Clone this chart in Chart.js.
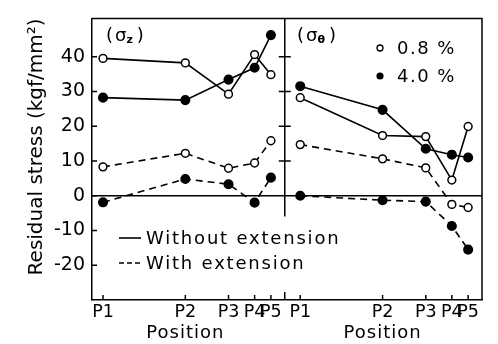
<!DOCTYPE html>
<html>
<head>
<meta charset="utf-8">
<script src="https://cdn.jsdelivr.net/npm/chart.js@4.4.0/dist/chart.umd.min.js"></script>
<style>
  html, body { margin: 0; padding: 0; background: #fff; }
  #wrap { width: 498px; height: 344px; }
</style>
</head>
<body>
<div id="wrap"><canvas id="myChart" width="498" height="344"></canvas></div>
<script>
// P1..P5 along one panel (units)
const positions = [0, 1.01, 1.54, 1.86, 2.06];
const positionLabels = ['P1', 'P2', 'P3', 'P4', 'P5'];
// right panel sits further along the same x axis
const panelShift = 2.42;
const dividerAt = 2.23;

// (sigma z) left panel
const szOpenWithout = [39.5, 38.2, 29.2, 40.6, 34.8];
const szFilledWithout = [28.2, 27.5, 33.4, 36.8, 46.2];
const szOpenWith = [8.3, 12.2, 7.9, 9.4, 15.8];
const szFilledWith = [-1.9, 4.8, 3.3, -2.0, 5.2];

// (sigma theta) right panel
const stOpenWithout = [28.2, 17.3, 17.0, 4.5, 19.9];
const stFilledWithout = [31.5, 24.7, 13.5, 11.8, 11.0];
const stOpenWith = [14.7, 10.6, 8.0, -2.5, -3.4];
const stFilledWith = [0, -1.3, -1.7, -8.7, -15.5];

const yTicks = [-20, -10, 0, 10, 20, 30, 40];

const FONT = '"DejaVu Sans", "Liberation Sans", sans-serif';
const rightPositions = positions.map(p => p + panelShift);
const xTickValues = positions.concat(rightPositions);
const xTickLabels = positionLabels.concat(positionLabels);

//one line of points, open or filled, solid or dashed
const makeSeries = (xs, ys, filled, dashed) => ({
  data: xs.map((x, i) => ({ x: x, y: ys[i] })),
  borderColor: '#000',
  borderWidth: 1.6,
  borderDash: dashed ? [7, 5] : [],
  pointRadius: filled ? 4.3 : 3.9,
  pointBackgroundColor: filled ? '#000' : '#fff',
  pointBorderColor: '#000',
  pointBorderWidth: 1.5,
  tension: 0,
});

// sigma with a small subscript, inside brackets
const drawSigma = (ctx, x, base, sub) => {
  ctx.font = '18px ' + FONT;
  ctx.fillText('(', x, base);
  x += ctx.measureText('(').width + 2;
  ctx.fillText('σ', x, base);
  x += ctx.measureText('σ').width;
  ctx.font = 'bold 11px ' + FONT;
  ctx.fillText(sub, x, base + 2);
  x += ctx.measureText(sub).width + 4;
  ctx.font = '18px ' + FONT;
  ctx.fillText(')', x, base);
};

const frameAndNotes = {
  id: 'frameAndNotes',
  afterDraw(chart) {
    const ctx = chart.ctx;
    const { left, right, top, bottom } = chart.chartArea;
    const xs = chart.scales.x;
    const ys = chart.scales.y;
    ctx.save();
    ctx.strokeStyle = '#000';
    ctx.fillStyle = '#000';
    ctx.lineWidth = 1.5;
    ctx.setLineDash([]);

    ctx.beginPath();
    //top and right edges of the frame
    ctx.moveTo(left, top);
    ctx.lineTo(right, top);
    ctx.lineTo(right, bottom);
    //divider between the panels
    const dx = xs.getPixelForValue(dividerAt);
    ctx.moveTo(dx, top);
    ctx.lineTo(dx, ys.getPixelForValue(-6));
    ctx.moveTo(dx, bottom);
    ctx.lineTo(dx, bottom - 8);
    [10, 20, 30, 40].forEach(v => {
      const py = ys.getPixelForValue(v);
      ctx.moveTo(dx - 6, py);
      ctx.lineTo(dx + 6, py);
    });
    //inward ticks
    yTicks.forEach(v => {
      const py = ys.getPixelForValue(v);
      ctx.moveTo(left, py);
      ctx.lineTo(left + 5, py);
    });
    xTickValues.forEach(v => {
      const px = xs.getPixelForValue(v);
      ctx.moveTo(px, bottom);
      ctx.lineTo(px, bottom - 5);
    });
    ctx.stroke();

    //panel names
    ctx.textBaseline = 'alphabetic';
    ctx.textAlign = 'left';
    drawSigma(ctx, 106, 41, 'z');
    drawSigma(ctx, 297, 41, 'θ');

    //marker legend
    ctx.letterSpacing = '1.5px';
    ctx.font = '18px ' + FONT;
    ctx.textBaseline = 'middle';
    ctx.beginPath();
    ctx.arc(380, 48, 3, 0, Math.PI * 2);
    ctx.lineWidth = 1.3;
    ctx.stroke();
    ctx.fillText('0.8 %', 397, 49);
    ctx.beginPath();
    ctx.arc(380, 76, 3.6, 0, Math.PI * 2);
    ctx.fill();
    ctx.fillText('4.0 %', 397, 77);

    //line style legend
    ctx.lineWidth = 1.6;
    ctx.beginPath();
    ctx.moveTo(119, 238);
    ctx.lineTo(141, 238);
    ctx.stroke();
    ctx.setLineDash([5, 3]);
    ctx.beginPath();
    ctx.moveTo(119, 263);
    ctx.lineTo(143, 263);
    ctx.stroke();
    ctx.setLineDash([]);
    ctx.letterSpacing = '1.8px';
    ctx.fillText('Without extension', 146, 239);
    ctx.fillText('With extension', 146, 264);

    //x axis titles, one under each panel
    ctx.letterSpacing = '1px';
    ctx.textAlign = 'center';
    ctx.font = '18px ' + FONT;
    ctx.fillText('Position', xs.getPixelForValue(positions[1]), 333);
    ctx.fillText('Position', xs.getPixelForValue(rightPositions[1]), 333);
    ctx.restore();
  }
};

const ctx = document.getElementById('myChart').getContext('2d');
new Chart(ctx, {
  type: 'line',
  data: {
    datasets: [
      makeSeries(positions, szOpenWithout, false, false),
      makeSeries(positions, szFilledWithout, true, false),
      makeSeries(positions, szOpenWith, false, true),
      makeSeries(positions, szFilledWith, true, true),
      makeSeries(rightPositions, stOpenWithout, false, false),
      makeSeries(rightPositions, stFilledWithout, true, false),
      makeSeries(rightPositions, stOpenWith, false, true),
      makeSeries(rightPositions, stFilledWith, true, true),
    ],
  },
  options: {
    responsive: false,
    animation: false,
    layout: { padding: { top: 17, right: 16, left: 0, bottom: 0 } },
    plugins: { legend: { display: false }, tooltip: { enabled: false } },
    scales: {
      x: {
        type: 'linear',
        min: -0.135,
        max: 4.65,
        afterFit: (scale) => { scale.height = 44; },
        afterBuildTicks: (scale) => { scale.ticks = xTickValues.map(v => ({ value: v })); },
        grid: { display: false, drawTicks: false },
        border: { display: true, color: '#000', width: 1.5 },
        ticks: {
          autoSkip: false,
          maxRotation: 0,
          minRotation: 0,
          padding: 2,
          color: '#000',
          font: { family: FONT, size: 17.5 },
          callback: (value, index) => xTickLabels[index],
        },
      },
      y: {
        type: 'linear',
        min: -30,
        max: 51,
        afterFit: (scale) => { scale.width = 92; },
        afterBuildTicks: (scale) => { scale.ticks = yTicks.map(v => ({ value: v })); },
        grid: {
          drawTicks: false,
          color: (c) => (c.tick && c.tick.value === 0 ? '#000' : 'rgba(0,0,0,0)'),
          lineWidth: 1.5,
        },
        border: { display: true, color: '#000', width: 1.5 },
        ticks: {
          padding: 7,
          color: '#000',
          font: { family: FONT, size: 19 },
        },
        title: {
          display: true,
          text: 'Residual stress (kgf/mm²)',
          align: 'end',
          color: '#000',
          padding: { top: 25, bottom: 0 },
          font: { family: FONT, size: 20 },
        },
      },
    },
  },
  plugins: [frameAndNotes],
});
</script>
</body>
</html>
